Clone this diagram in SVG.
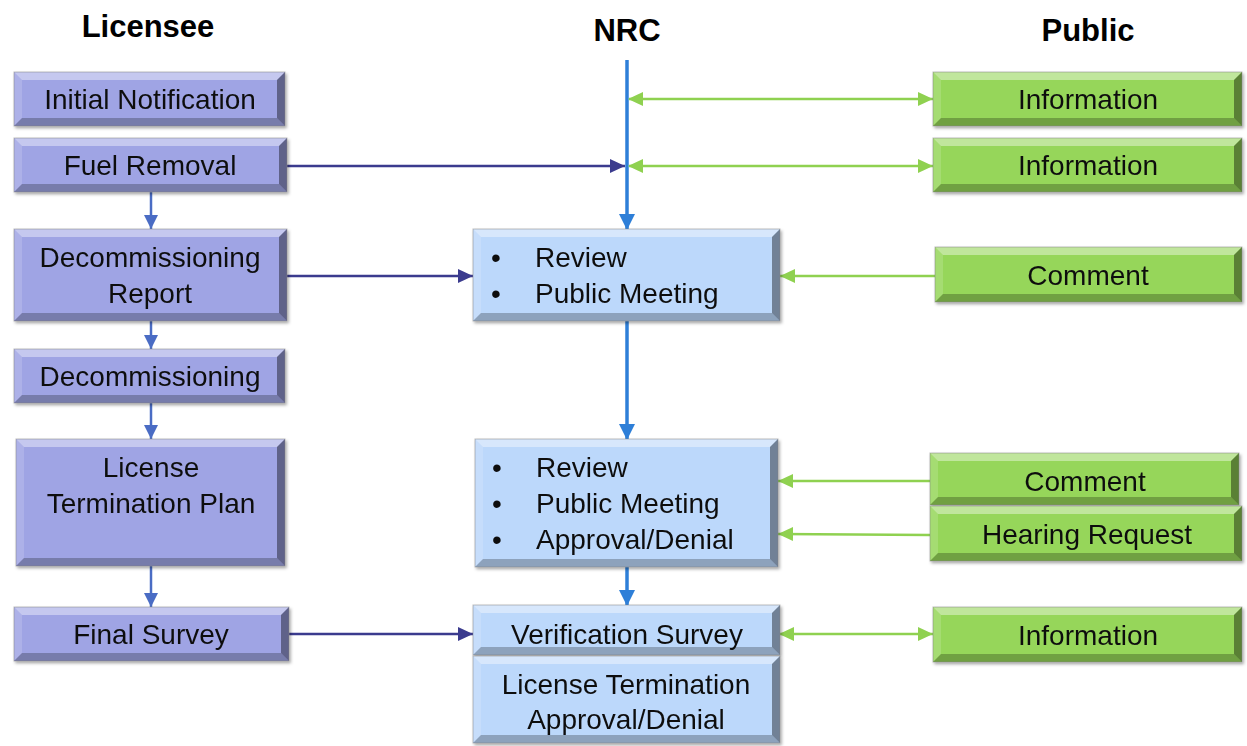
<svg xmlns="http://www.w3.org/2000/svg" width="1247" height="746" viewBox="0 0 1247 746">
<style>
.t{font-family:"Liberation Sans",Arial,sans-serif;font-size:28px;fill:#111;text-anchor:middle}
.tl{font-family:"Liberation Sans",Arial,sans-serif;font-size:28px;fill:#111}
.h{font-family:"Liberation Sans",Arial,sans-serif;font-size:31px;font-weight:bold;fill:#000;text-anchor:middle}
.p{fill:#9fa4e4}
.b{fill:#bcd8fb}
.g{fill:#96d65a}
.hi{fill:#fff;opacity:.4}
.hl{fill:#fff;opacity:.15}
.dr{fill:#000;opacity:.4}
.db{fill:#000;opacity:.25}
.edge{fill:none;stroke:#7f7f7f;stroke-width:1;stroke-opacity:.5}
.cb{stroke:#2e7fd8;stroke-width:3.5;fill:none}
.cd{stroke:#3b3b8e;stroke-width:2.5;fill:none}
.cl{stroke:#4a6cc4;stroke-width:2.5;fill:none}
.cg{stroke:#8fd150;stroke-width:2.5;fill:none}
</style>
<defs>
<filter id="sh" x="-5%" y="-5%" width="115%" height="130%"><feDropShadow dx="1.5" dy="2" stdDeviation="1.5" flood-color="#000" flood-opacity="0.35"/></filter>
<marker id="ab" markerUnits="userSpaceOnUse" markerWidth="16" markerHeight="16" refX="15" refY="8" orient="auto"><path d="M0,0 L16,8 L0,16 z" fill="#2e7fd8"/></marker>
<marker id="ad" markerUnits="userSpaceOnUse" markerWidth="16" markerHeight="16" refX="15" refY="8" orient="auto"><path d="M0,1 L15,8 L0,15 z" fill="#3b3b8e"/></marker>
<marker id="al" markerUnits="userSpaceOnUse" markerWidth="16" markerHeight="16" refX="14" refY="7" orient="auto"><path d="M0,0 L14,7 L0,14 z" fill="#4a6cc4"/></marker>
<marker id="ag" markerUnits="userSpaceOnUse" markerWidth="16" markerHeight="16" refX="15" refY="8" orient="auto"><path d="M0,1 L15,8 L0,15 z" fill="#8fd150"/></marker>
<marker id="ags" markerUnits="userSpaceOnUse" markerWidth="16" markerHeight="16" refX="1" refY="8" orient="auto"><path d="M15,1 L0,8 L15,15 z" fill="#8fd150"/></marker>
</defs>
<rect width="1247" height="746" fill="#fff"/>

<g id="headers">
<text class="h" x="148" y="37">Licensee</text>
<text class="h" x="627" y="41">NRC</text>
<text class="h" x="1088" y="41">Public</text>
</g>

<g id="connectors">
<line class="cb" x1="627" y1="60" x2="627" y2="229" marker-end="url(#ab)"/>
<line class="cb" x1="627" y1="321" x2="627" y2="439" marker-end="url(#ab)"/>
<line class="cb" x1="627" y1="567" x2="627" y2="605" marker-end="url(#ab)"/>
<line class="cg" x1="629" y1="99" x2="933" y2="99" marker-start="url(#ags)" marker-end="url(#ag)"/>
<line class="cg" x1="629" y1="166" x2="933" y2="166" marker-start="url(#ags)" marker-end="url(#ag)"/>
<line class="cd" x1="287" y1="166" x2="625" y2="166" marker-end="url(#ad)"/>
<line class="cd" x1="287" y1="276" x2="473" y2="276" marker-end="url(#ad)"/>
<line class="cd" x1="289" y1="634" x2="473" y2="634" marker-end="url(#ad)"/>
<line class="cg" x1="935" y1="276" x2="780" y2="276" marker-end="url(#ag)"/>
<line class="cg" x1="930" y1="481" x2="778" y2="481" marker-end="url(#ag)"/>
<line class="cg" x1="930" y1="535" x2="778" y2="534" marker-end="url(#ag)"/>
<line class="cg" x1="780" y1="634" x2="933" y2="634" marker-start="url(#ags)" marker-end="url(#ag)"/>
<line class="cl" x1="151" y1="192" x2="151" y2="229" marker-end="url(#al)"/>
<line class="cl" x1="151" y1="321" x2="151" y2="349" marker-end="url(#al)"/>
<line class="cl" x1="151" y1="403" x2="151" y2="439" marker-end="url(#al)"/>
<line class="cl" x1="151" y1="566" x2="151" y2="607" marker-end="url(#al)"/>
</g>

<g id="n-initial-notification" filter="url(#sh)">
<rect class="p" x="14" y="72" width="271" height="54"/>
<polygon class="hi" points="14,72 285,72 277,80 22,80"/><polygon class="hl" points="14,72 22,80 22,118 14,126"/><polygon class="dr" points="285,72 285,126 277,118 277,80"/><polygon class="db" points="14,126 22,118 277,118 285,126"/>
<rect class="edge" x="14" y="72" width="271" height="54"/>
<text class="t" x="150" y="109">Initial Notification</text>
</g>

<g id="n-fuel-removal" filter="url(#sh)">
<rect class="p" x="14" y="138" width="273" height="54"/>
<polygon class="hi" points="14,138 287,138 279,146 22,146"/><polygon class="hl" points="14,138 22,146 22,184 14,192"/><polygon class="dr" points="287,138 287,192 279,184 279,146"/><polygon class="db" points="14,192 22,184 279,184 287,192"/>
<rect class="edge" x="14" y="138" width="273" height="54"/>
<text class="t" x="150" y="175">Fuel Removal</text>
</g>

<g id="n-decommissioning-report" filter="url(#sh)">
<rect class="p" x="14" y="229" width="273" height="92"/>
<polygon class="hi" points="14,229 287,229 279,237 22,237"/><polygon class="hl" points="14,229 22,237 22,313 14,321"/><polygon class="dr" points="287,229 287,321 279,313 279,237"/><polygon class="db" points="14,321 22,313 279,313 287,321"/>
<rect class="edge" x="14" y="229" width="273" height="92"/>
<text class="t" x="150" y="267">Decommissioning</text>
<text class="t" x="150" y="303">Report</text>
</g>

<g id="n-decommissioning" filter="url(#sh)">
<rect class="p" x="14" y="349" width="271" height="54"/>
<polygon class="hi" points="14,349 285,349 277,357 22,357"/><polygon class="hl" points="14,349 22,357 22,395 14,403"/><polygon class="dr" points="285,349 285,403 277,395 277,357"/><polygon class="db" points="14,403 22,395 277,395 285,403"/>
<rect class="edge" x="14" y="349" width="271" height="54"/>
<text class="t" x="150" y="386">Decommissioning</text>
</g>

<g id="n-license-termination-plan" filter="url(#sh)">
<rect class="p" x="16" y="439" width="269" height="127"/>
<polygon class="hi" points="16,439 285,439 277,447 24,447"/><polygon class="hl" points="16,439 24,447 24,558 16,566"/><polygon class="dr" points="285,439 285,566 277,558 277,447"/><polygon class="db" points="16,566 24,558 277,558 285,566"/>
<rect class="edge" x="16" y="439" width="269" height="127"/>
<text class="t" x="151" y="477">License</text>
<text class="t" x="151" y="513">Termination Plan</text>
</g>

<g id="n-final-survey" filter="url(#sh)">
<rect class="p" x="14" y="607" width="275" height="54"/>
<polygon class="hi" points="14,607 289,607 281,615 22,615"/><polygon class="hl" points="14,607 22,615 22,653 14,661"/><polygon class="dr" points="289,607 289,661 281,653 281,615"/><polygon class="db" points="14,661 22,653 281,653 289,661"/>
<rect class="edge" x="14" y="607" width="275" height="54"/>
<text class="t" x="151" y="644">Final Survey</text>
</g>

<g id="n-review-1" filter="url(#sh)">
<rect class="b" x="473" y="229" width="307" height="92"/>
<polygon class="hi" points="473,229 780,229 772,237 481,237"/><polygon class="hl" points="473,229 481,237 481,313 473,321"/><polygon class="dr" points="780,229 780,321 772,313 772,237"/><polygon class="db" points="473,321 481,313 772,313 780,321"/>
<rect class="edge" x="473" y="229" width="307" height="92"/>
<text class="tl" x="491" y="267">•</text><text class="tl" x="535" y="267">Review</text>
<text class="tl" x="491" y="303">•</text><text class="tl" x="535" y="303">Public Meeting</text>
</g>

<g id="n-review-2" filter="url(#sh)">
<rect class="b" x="475" y="439" width="303" height="128"/>
<polygon class="hi" points="475,439 778,439 770,447 483,447"/><polygon class="hl" points="475,439 483,447 483,559 475,567"/><polygon class="dr" points="778,439 778,567 770,559 770,447"/><polygon class="db" points="475,567 483,559 770,559 778,567"/>
<rect class="edge" x="475" y="439" width="303" height="128"/>
<text class="tl" x="492" y="477">•</text><text class="tl" x="536" y="477">Review</text>
<text class="tl" x="492" y="513">•</text><text class="tl" x="536" y="513">Public Meeting</text>
<text class="tl" x="492" y="549">•</text><text class="tl" x="536" y="549">Approval/Denial</text>
</g>

<g id="n-verification-survey" filter="url(#sh)">
<rect class="b" x="473" y="605" width="307" height="50"/>
<polygon class="hi" points="473,605 780,605 772,613 481,613"/><polygon class="hl" points="473,605 481,613 481,647 473,655"/><polygon class="dr" points="780,605 780,655 772,647 772,613"/><polygon class="db" points="473,655 481,647 772,647 780,655"/>
<rect class="edge" x="473" y="605" width="307" height="50"/>
<text class="t" x="627" y="644">Verification Survey</text>
</g>

<g id="n-license-termination" filter="url(#sh)">
<rect class="b" x="473" y="656" width="307" height="87"/>
<polygon class="hi" points="473,656 780,656 772,664 481,664"/><polygon class="hl" points="473,656 481,664 481,735 473,743"/><polygon class="dr" points="780,656 780,743 772,735 772,664"/><polygon class="db" points="473,743 481,735 772,735 780,743"/>
<rect class="edge" x="473" y="656" width="307" height="87"/>
<text class="t" x="626" y="694">License Termination</text>
<text class="t" x="626" y="729">Approval/Denial</text>
</g>

<g id="n-information-1" filter="url(#sh)">
<rect class="g" x="933" y="72" width="309" height="54"/>
<polygon class="hi" points="933,72 1242,72 1234,80 941,80"/><polygon class="hl" points="933,72 941,80 941,118 933,126"/><polygon class="dr" points="1242,72 1242,126 1234,118 1234,80"/><polygon class="db" points="933,126 941,118 1234,118 1242,126"/>
<rect class="edge" x="933" y="72" width="309" height="54"/>
<text class="t" x="1088" y="109">Information</text>
</g>

<g id="n-information-2" filter="url(#sh)">
<rect class="g" x="933" y="138" width="309" height="54"/>
<polygon class="hi" points="933,138 1242,138 1234,146 941,146"/><polygon class="hl" points="933,138 941,146 941,184 933,192"/><polygon class="dr" points="1242,138 1242,192 1234,184 1234,146"/><polygon class="db" points="933,192 941,184 1234,184 1242,192"/>
<rect class="edge" x="933" y="138" width="309" height="54"/>
<text class="t" x="1088" y="175">Information</text>
</g>

<g id="n-comment-1" filter="url(#sh)">
<rect class="g" x="935" y="247" width="307" height="55"/>
<polygon class="hi" points="935,247 1242,247 1234,255 943,255"/><polygon class="hl" points="935,247 943,255 943,294 935,302"/><polygon class="dr" points="1242,247 1242,302 1234,294 1234,255"/><polygon class="db" points="935,302 943,294 1234,294 1242,302"/>
<rect class="edge" x="935" y="247" width="307" height="55"/>
<text class="t" x="1088" y="285">Comment</text>
</g>

<g id="n-comment-2" filter="url(#sh)">
<rect class="g" x="930" y="453" width="309" height="52"/>
<polygon class="hi" points="930,453 1239,453 1231,461 938,461"/><polygon class="hl" points="930,453 938,461 938,497 930,505"/><polygon class="dr" points="1239,453 1239,505 1231,497 1231,461"/><polygon class="db" points="930,505 938,497 1231,497 1239,505"/>
<rect class="edge" x="930" y="453" width="309" height="52"/>
<text class="t" x="1085" y="491">Comment</text>
</g>

<g id="n-hearing-request" filter="url(#sh)">
<rect class="g" x="930" y="506" width="312" height="55"/>
<polygon class="hi" points="930,506 1242,506 1234,514 938,514"/><polygon class="hl" points="930,506 938,514 938,553 930,561"/><polygon class="dr" points="1242,506 1242,561 1234,553 1234,514"/><polygon class="db" points="930,561 938,553 1234,553 1242,561"/>
<rect class="edge" x="930" y="506" width="312" height="55"/>
<text class="t" x="1087" y="544">Hearing Request</text>
</g>

<g id="n-information-3" filter="url(#sh)">
<rect class="g" x="933" y="607" width="309" height="55"/>
<polygon class="hi" points="933,607 1242,607 1234,615 941,615"/><polygon class="hl" points="933,607 941,615 941,654 933,662"/><polygon class="dr" points="1242,607 1242,662 1234,654 1234,615"/><polygon class="db" points="933,662 941,654 1234,654 1242,662"/>
<rect class="edge" x="933" y="607" width="309" height="55"/>
<text class="t" x="1088" y="645">Information</text>
</g>
</svg>
